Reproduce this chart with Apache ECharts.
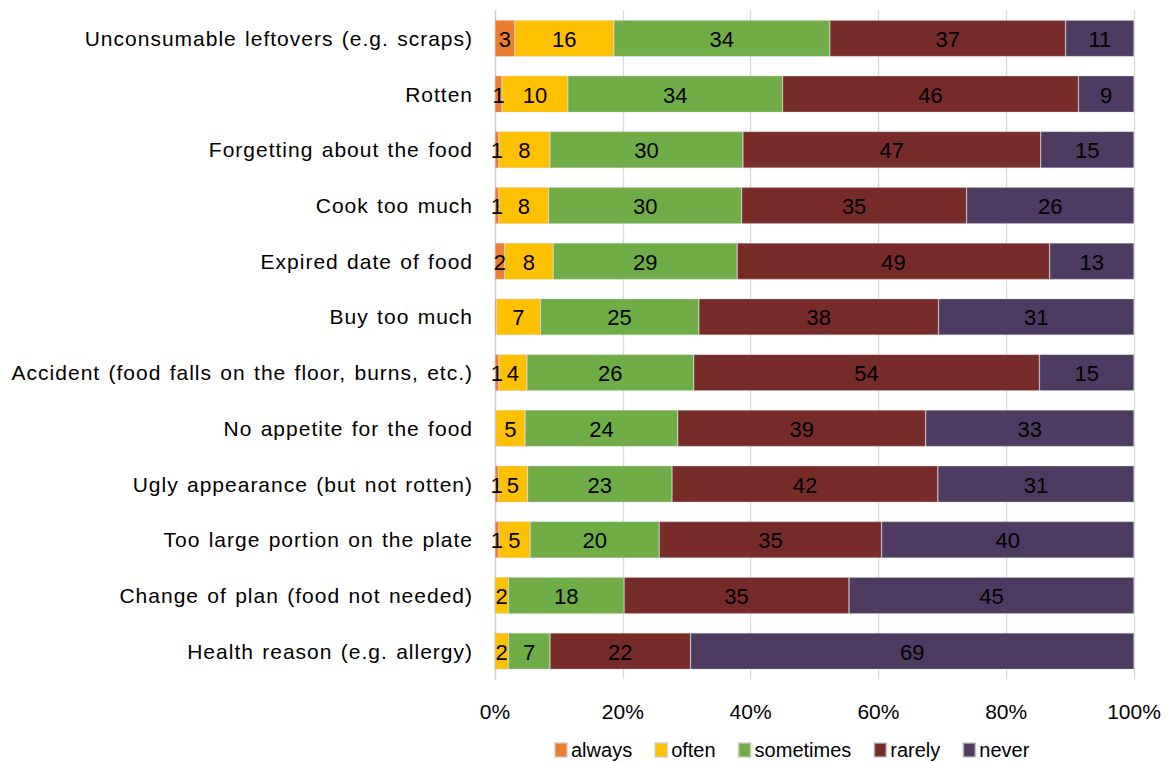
<!DOCTYPE html>
<html>
<head>
<meta charset="utf-8">
<script src="https://cdn.jsdelivr.net/npm/echarts@6/dist/echarts.min.js"></script>
<style>
html,body{margin:0;padding:0;background:#fff;}
#main{width:1169px;height:762px;}
#main svg text[text-anchor="end"]{letter-spacing:1px;word-spacing:1.5px;}
</style>
</head>
<body>
<div id="main"></div>
<script>
var categories = [
  'Unconsumable leftovers (e.g. scraps)',
  'Rotten',
  'Forgetting about the food',
  'Cook too much',
  'Expired date of food',
  'Buy too much',
  'Accident (food falls on the floor, burns, etc.)',
  'No appetite for the food',
  'Ugly appearance (but not rotten)',
  'Too large portion on the plate',
  'Change of plan (food not needed)',
  'Health reason (e.g. allergy)'
];
var seriesNames = ['always', 'often', 'sometimes', 'rarely', 'never'];
var always    = [3.1, 1.1, 0.6, 0.6, 1.5, 0.2, 0.6, 0.1, 0.5, 0.6, 0, 0];
var often     = [15.5, 10.3, 8.0, 7.8, 7.6, 6.9, 4.4, 4.6, 4.6, 4.9, 2.1, 2.1];
var sometimes = [33.8, 33.6, 30.2, 30.2, 28.8, 24.8, 26.1, 23.9, 22.6, 20.2, 18.1, 6.5];
var rarely    = [36.9, 46.3, 46.6, 35.2, 48.9, 37.5, 54.1, 38.8, 41.6, 34.8, 35.2, 22.0];
var never     = [10.7, 8.7, 14.6, 26.2, 13.2, 30.6, 14.8, 32.6, 30.7, 39.5, 44.6, 69.4];
var xTicks = [0, 20, 40, 60, 80, 100];

var colors = ['#ED7D31', '#FFC000', '#70AD47', '#772C2A', '#4E3B62'];
var allData = [always, often, sometimes, rarely, never];
var FONT = '"Liberation Sans", Arial, sans-serif';

var chart = echarts.init(document.getElementById('main'), null, { renderer: 'svg' });
var series = seriesNames.map(function (name, i) {
  return {
    name: name,
    type: 'bar',
    stack: 'total',
    barWidth: 36.5,
    data: allData[i],
    itemStyle: { color: colors[i], borderColor: 'rgba(200,200,200,0.6)', borderWidth: 0.6 },
    label: {
      show: true,
      position: 'inside',
      offset: [0, 1],
      color: '#000',
      fontFamily: FONT,
      fontSize: 22,
      formatter: function (p) {
        var v = Math.round(p.value);
        return v === 0 ? '' : String(v);
      }
    },
    emphasis: { disabled: true }
  };
});

chart.setOption({
  animation: false,
  color: colors,
  grid: { left: 495, right: 35, top: 10.5, bottom: 83 },
  legend: {
    data: seriesNames,
    left: 549,
    top: 735,
    itemWidth: 12,
    itemHeight: 14,
    itemGap: 22,
    icon: 'rect',
    textStyle: { fontFamily: FONT, fontSize: 20, color: '#000', padding: [0, 0, 0, -1] }
  },
  xAxis: {
    type: 'value',
    min: 0,
    max: 100,
    interval: 20,
    axisLine: { show: false },
    axisTick: { show: false },
    splitLine: { show: true, lineStyle: { color: '#D9D9D9', width: 1.3 } },
    axisLabel: {
      margin: 22,
      color: '#000',
      fontFamily: FONT,
      fontSize: 21,
      formatter: function (v) { return xTicks.indexOf(v) >= 0 ? v + '%' : ''; }
    }
  },
  yAxis: {
    type: 'category',
    inverse: true,
    data: categories,
    axisTick: { show: false },
    axisLine: { show: true, lineStyle: { color: '#D0D0D0', width: 1.3 } },
    axisLabel: {
      margin: 22,
      color: '#000',
      fontFamily: FONT,
      fontSize: 21
    }
  },
  series: series
});
</script>
</body>
</html>
